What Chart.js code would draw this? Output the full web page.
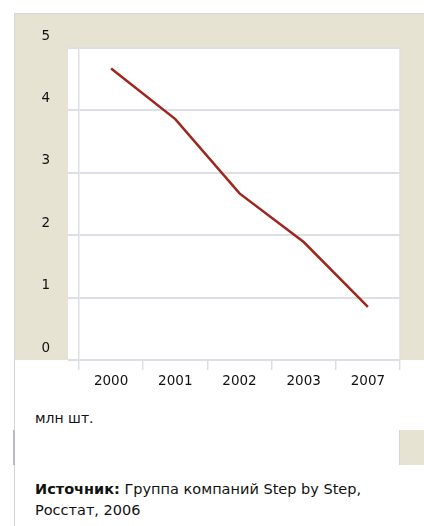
<!DOCTYPE html>
<html>
<head>
<meta charset="utf-8">
<script src="https://cdn.jsdelivr.net/npm/chart.js@4/dist/chart.umd.min.js"></script>
<style>
  html, body { margin: 0; padding: 0; background: #fff; }
  body { width: 424px; height: 526px; position: relative; overflow: hidden; font-family: "DejaVu Sans", sans-serif; color: #111; }
  .frame { position: absolute; left: 14px; top: 13px; width: 410px; height: 513px; border-left: 1px solid #d4d5d8; border-top: 1px solid #d4d5d8; }
  .mark { position: absolute; left: 13px; top: 430px; width: 2px; height: 35px; background: #b9bcc2; }
  .side { position: absolute; left: 399px; top: 430px; width: 25px; height: 35px; background: #e7e3d3; border-left: 1px solid #d4d5d8; }
  .wrap { position: absolute; left: 0; top: 0; width: 424px; height: 400px; }
  .unit { position: absolute; left: 35px; top: 410px; font-size: 14px; }
  .src { position: absolute; left: 35px; top: 479px; font-size: 14.5px; line-height: 21px; }
</style>
</head>
<body>
<div class="frame"></div>
<div class="mark"></div>
<div class="side"></div>
<div class="wrap"><canvas id="lineChart"></canvas></div>
<div class="unit">млн шт.</div>
<div class="src"><b>Источник:</b> Группа компаний Step by Step,<br>Росстат, 2006</div>
<script>
  var years = ["2000", "2001", "2002", "2003", "2007"];
  var output = [4.67, 3.86, 2.67, 1.89, 0.85]; // млн шт.
  var yTicks = [0, 1, 2, 3, 4, 5];

  var beige = '#e7e3d3';
  var gridGray = '#dcdfe3';

  // beige panel with white plot area, and the right edge line
  var panel = {
    id: 'panel',
    beforeDraw: function(chart) {
      var c = chart.ctx, a = chart.chartArea;
      c.save();
      c.fillStyle = beige;
      c.fillRect(15, 14, chart.width - 15, a.bottom - 14);
      c.fillStyle = '#fff';
      c.fillRect(a.left - 11, a.top, a.right - a.left + 11, a.bottom - a.top);
      c.strokeStyle = gridGray;
      c.lineWidth = 1.5;
      c.beginPath();
      c.moveTo(a.right, a.top);
      c.lineTo(a.right, a.bottom);
      c.stroke();
      c.restore();
    }
  };

  var ctx = document.getElementById('lineChart').getContext('2d');
  var myChart = new Chart(ctx, {
    type: 'line',
    data: {
      labels: years,
      datasets: [{
        data: output,
        borderColor: '#9e261d',
        borderWidth: 2.5,
        pointRadius: 0,
        fill: false,
        tension: 0
      }]
    },
    options: {
      responsive: true,
      maintainAspectRatio: false,
      animation: false,
      layout: { padding: { left: 14, top: 48, right: 24, bottom: 0 } },
      plugins: { legend: { display: false }, tooltip: { enabled: false } },
      scales: {
        x: {
          offset: true,
          grid: { offset: true, drawOnChartArea: false, tickLength: 10, tickColor: gridGray, lineWidth: 1.5 },
          border: { display: false },
          ticks: { color: '#111', padding: 3, font: { family: 'DejaVu Sans', size: 13.5 } },
          afterFit: function(scale) { scale.height = 40; }
        },
        y: {
          min: 0,
          max: 5,
          afterBuildTicks: function(scale) { scale.ticks = yTicks.map(function(v) { return { value: v }; }); },
          grid: { color: gridGray, lineWidth: 2, tickLength: 11 },
          border: { display: true, color: gridGray, width: 1.5 },
          ticks: { color: '#111', padding: 18, labelOffset: -12, font: { family: 'DejaVu Sans', size: 13.5 } },
          afterFit: function(scale) { scale.width = 65; }
        }
      }
    },
    plugins: [panel]
  });
</script>
</body>
</html>
